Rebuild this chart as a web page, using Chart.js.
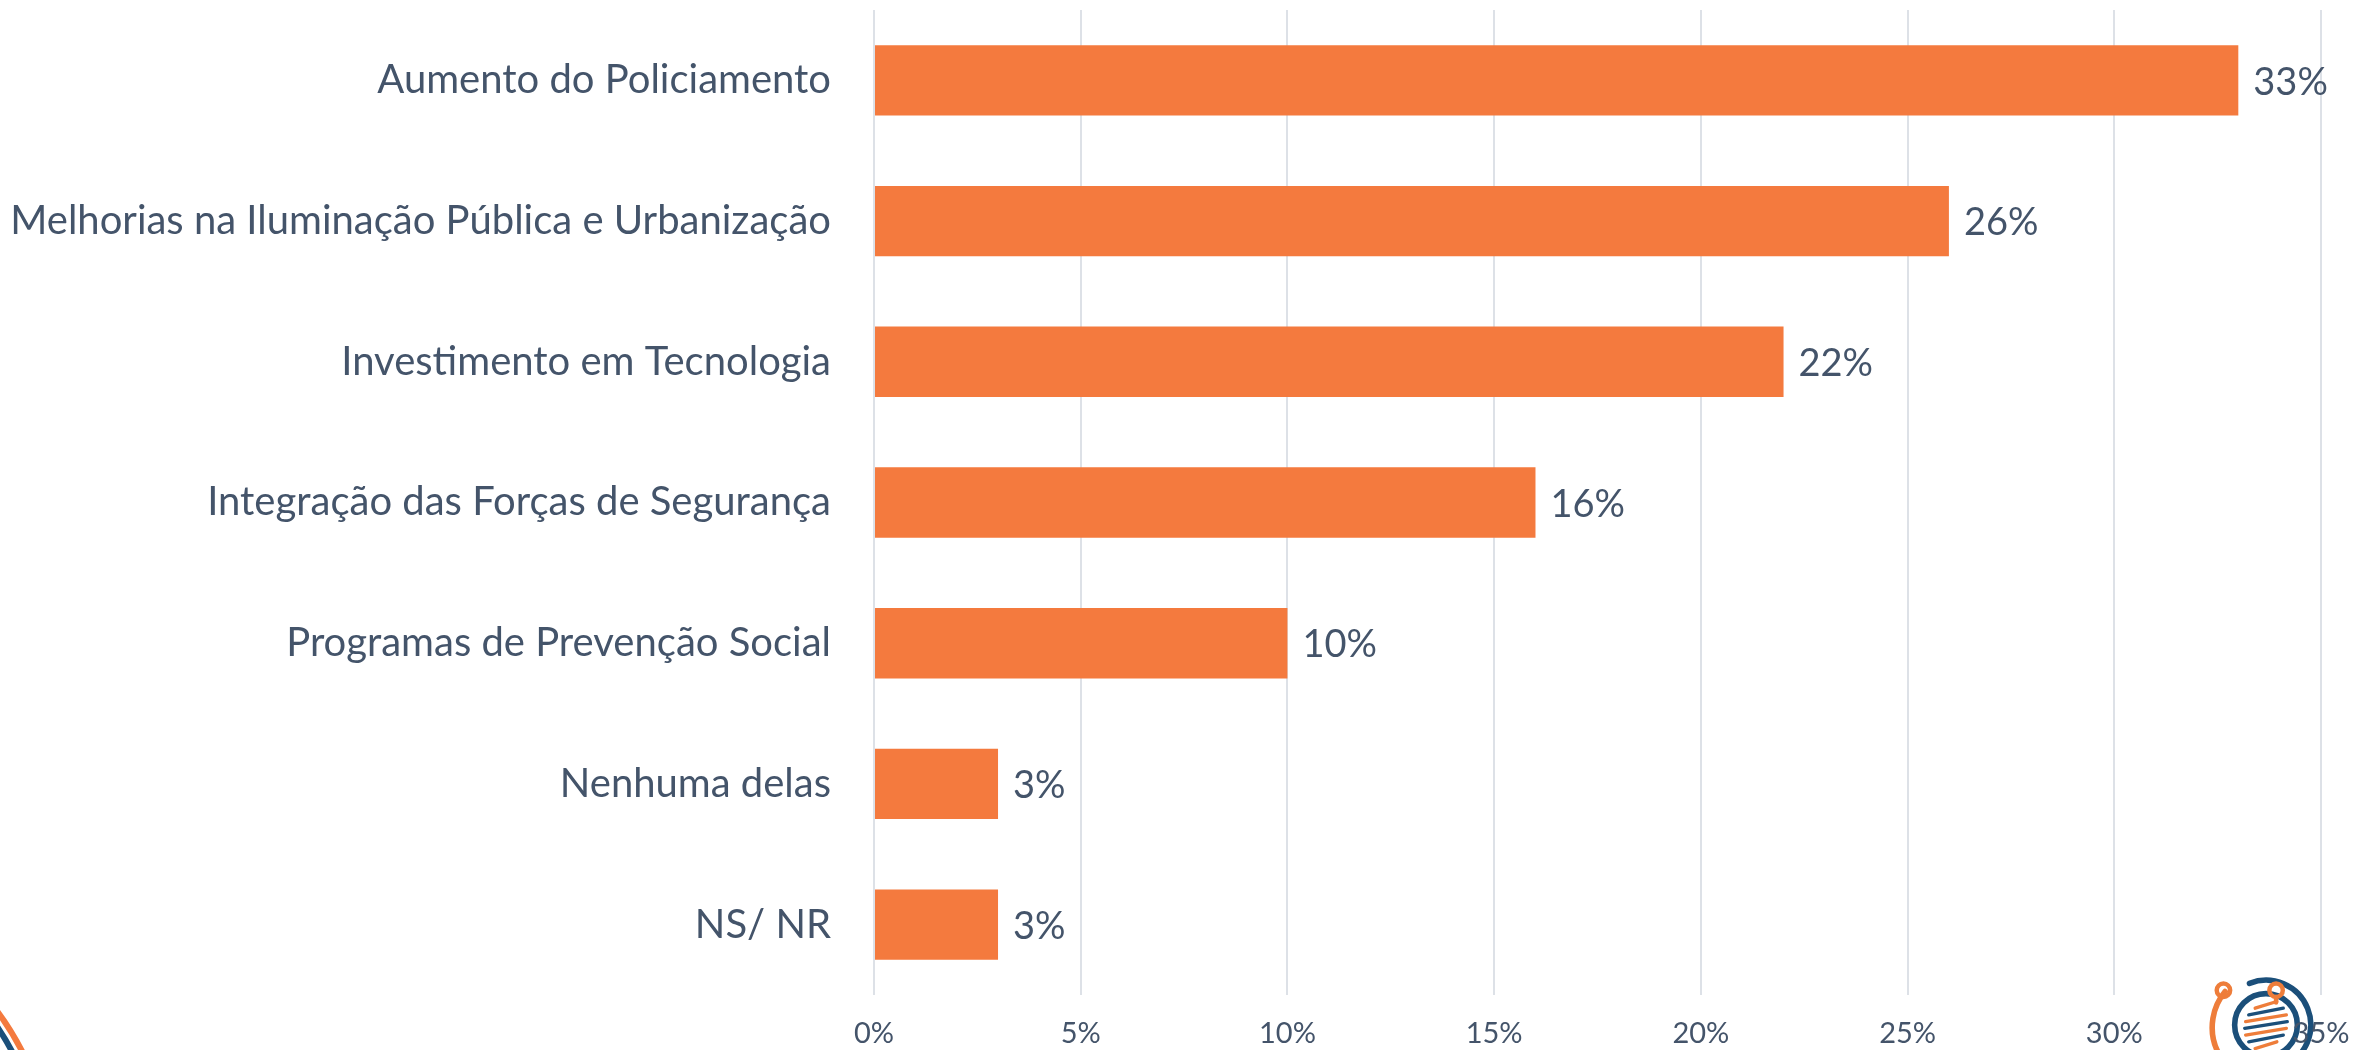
<!DOCTYPE html>
<html>
<head>
<meta charset="utf-8">
<script src="https://cdn.jsdelivr.net/npm/chart.js@4.4.1/dist/chart.umd.min.js"></script>
<style>
    html, body { margin: 0; padding: 0; background: #fff; }
    #wrap { width: 2374px; height: 1050px; position: relative; }
</style>
</head>
<body>
<div id="wrap"><canvas id="myChart"></canvas></div>
<script>
// data
const categories = [
    'Aumento do Policiamento',
    'Melhorias na Iluminação Pública e Urbanização',
    'Investimento em Tecnologia',
    'Integração das Forças de Segurança',
    'Programas de Prevenção Social',
    'Nenhuma delas',
    'NS/ NR'
];
const values = [33, 26, 22, 16, 10, 3, 3];
const xTicks = [0, 5, 10, 15, 20, 25, 30, 35];

const textColor = '#44546A';
const barColor = '#F47A3E';
const gridColor = '#DDE1E7';
const fontFamily = 'Lato, "Open Sans", sans-serif';

// value labels at the end of each bar
const barLabels = {
    id: 'barLabels',
    afterDatasetsDraw(chart) {
        const ctx = chart.ctx;
        const meta = chart.getDatasetMeta(0);
        ctx.save();
        ctx.font = '38px ' + fontFamily;
        ctx.fillStyle = textColor;
        ctx.textAlign = 'left';
        ctx.textBaseline = 'middle';
        meta.data.forEach((bar, i) => {
            ctx.fillText(values[i] + '%', bar.x + 15, bar.y + 2);
        });
        ctx.restore();
    }
};

// slide decorations (logo bottom right, arc bottom left)
const decorations = {
    id: 'decorations',
    beforeDraw(chart) {
        const ctx = chart.ctx;
        const w = chart.width, h = chart.height;
        ctx.save();
        // bottom left arcs
        ctx.lineWidth = 6;
        ctx.strokeStyle = '#F47A3E';
        ctx.beginPath();
        ctx.arc(-230, h + 130, 283, -Math.PI / 2, 0);
        ctx.stroke();
        ctx.strokeStyle = '#1B4F7A';
        ctx.beginPath();
        ctx.arc(-230, h + 130, 274, -Math.PI / 2, 0);
        ctx.stroke();

        // logo
        ctx.translate(w - 108, h - 25);
        ctx.scale(1.12, 1.12);
        ctx.lineCap = 'round';
        ctx.lineWidth = 5;
        ctx.strokeStyle = '#1B4F7A';
        ctx.beginPath();
        ctx.arc(0, 0, 40, -Math.PI * 0.62, Math.PI * 0.75);
        ctx.stroke();
        ctx.beginPath();
        ctx.arc(0, 0, 28, 0, Math.PI * 2);
        ctx.stroke();
        ctx.strokeStyle = '#EE7D3A';
        ctx.beginPath();
        ctx.arc(2, 2, 50, Math.PI * 0.55, Math.PI * 1.22);
        ctx.stroke();
        ctx.lineWidth = 4;
        ctx.beginPath();
        ctx.arc(-38, -31, 6, 0, Math.PI * 2);
        ctx.stroke();
        ctx.beginPath();
        ctx.arc(9, -31, 6, 0, Math.PI * 2);
        ctx.stroke();
        ctx.beginPath();
        ctx.moveTo(9, -25);
        ctx.lineTo(9, -20);
        ctx.stroke();
        // inner strokes
        const rows = [[-18, '#EE7D3A'], [-12, '#1B4F7A'], [-6, '#EE7D3A'], [0, '#1B4F7A'], [6, '#EE7D3A'], [12, '#1B4F7A'], [18, '#EE7D3A']];
        ctx.lineWidth = 3;
        rows.forEach(([dy, c]) => {
            const half = Math.sqrt(Math.max(0, 22 * 22 - dy * dy));
            ctx.strokeStyle = c;
            ctx.beginPath();
            ctx.moveTo(-half + 3, dy + 3);
            ctx.lineTo(half - 3, dy - 3);
            ctx.stroke();
        });
        ctx.restore();
    }
};

const ctx = document.getElementById('myChart').getContext('2d');
const myChart = new Chart(ctx, {
    type: 'bar',
    data: {
        labels: categories,
        datasets: [{
            data: values,
            backgroundColor: barColor,
            borderWidth: 0,
            categoryPercentage: 1,
            barPercentage: 0.5
        }]
    },
    options: {
        indexAxis: 'y',
        responsive: true,
        maintainAspectRatio: false,
        animation: false,
        layout: { padding: { top: 10, right: 53, left: 0, bottom: 0 } },
        plugins: {
            legend: { display: false },
            tooltip: { enabled: false }
        },
        scales: {
            x: {
                min: 0,
                max: 35,
                afterBuildTicks(scale) {
                    scale.ticks = xTicks.map(v => ({ value: v }));
                },
                afterFit(scale) {
                    scale.height = 55;
                    scale.paddingLeft = 0;
                    scale.paddingRight = 0;
                },
                ticks: {
                    callback: v => v + '%',
                    color: textColor,
                    font: { size: 29, family: fontFamily },
                    padding: 21,
                    maxRotation: 0
                },
                grid: { color: gridColor, lineWidth: 2, drawTicks: false },
                border: { display: false }
            },
            y: {
                afterFit(scale) {
                    scale.width = 874;
                    scale.paddingTop = 0;
                    scale.paddingBottom = 0;
                },
                ticks: {
                    color: textColor,
                    font: { size: 40, family: fontFamily },
                    padding: 43
                },
                grid: { display: false, drawTicks: false },
                border: { display: false }
            }
        }
    },
    plugins: [decorations, barLabels]
});
</script>
</body>
</html>
